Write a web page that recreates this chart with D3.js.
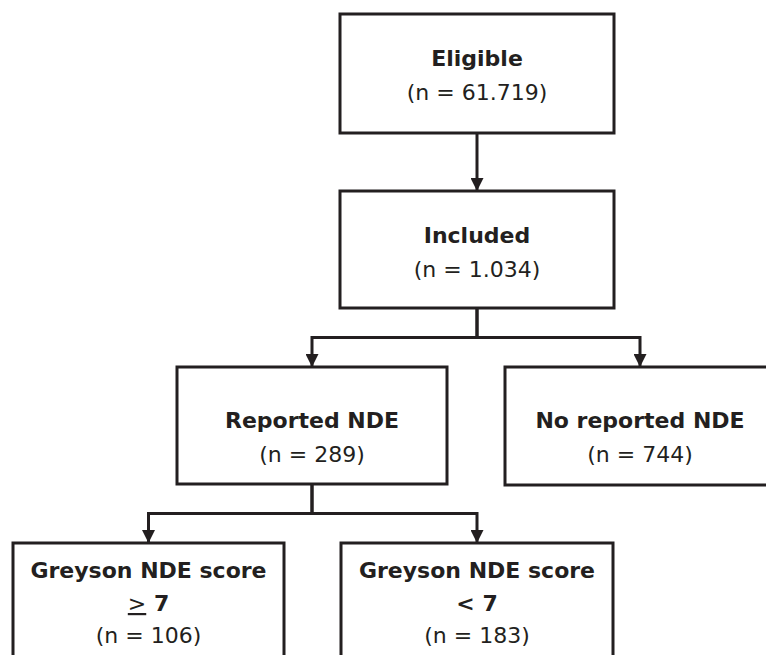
<!DOCTYPE html>
<html>
<head>
<meta charset="utf-8">
<script src="https://cdn.jsdelivr.net/npm/d3@7"></script>
<style>
  body{margin:0;background:#fff;}
  svg{display:block;}
</style>
</head>
<body>
<div id="flow"></div>
<script>
// node texts and counts
const titles = ["Eligible", "Included", "Reported NDE", "No reported NDE", "Greyson NDE score", "Greyson NDE score"];
// second line: [underlined operator, rest]
const subOps = [null, null, null, null, ">", "<"];
const subRest = [null, null, null, null, " 7", " 7"];
const subUnderline = [false, false, false, false, true, false];
const counts = ["61.719", "1.034", "289", "744", "106", "183"];
// parent index of each node (-1 = root)
const parents = [-1, 0, 1, 1, 2, 2];

/* layout: box centres (x) and tops (y) */
const W = 766, H = 655;
const boxCx = [477, 477, 312, 640, 148.5, 477];
const boxTop = [14, 191, 367, 367, 543, 543];
const boxW = [274, 274, 270, 270, 271, 272];
const boxH = [119, 117, 117, 118, 150, 150];
const firstBase = [52, 52, 61, 61, 35, 35];
const lineGap = 34;
const ink = "#231f20";

var svg = d3.select("#flow").append("svg")
  .attr("width", W).attr("height", H);

svg.append("defs").append("marker")
  .attr("id", "arr")
  .attr("viewBox", "0 0 10 10")
  .attr("refX", 10).attr("refY", 5)
  .attr("markerUnits", "userSpaceOnUse")
  .attr("markerWidth", 15).attr("markerHeight", 13)
  .attr("orient", "auto")
  .append("path").attr("d", "M0,0L10,5L0,10Z").attr("fill", ink);

const nodes = titles.map((t, i) => ({
  i: i, title: t, op: subOps[i], rest: subRest[i], n: counts[i], parent: parents[i],
  x: boxCx[i] - boxW[i] / 2, y: boxTop[i], w: boxW[i], h: boxH[i]
}));

// connectors
const links = svg.append("g").attr("fill", "none").attr("stroke", ink).attr("stroke-width", 3);
nodes.filter(d => d.parent >= 0).forEach(d => {
  const p = nodes[d.parent];
  const sibs = nodes.filter(s => s.parent === d.parent);
  const pcx = boxCx[p.i], ccx = boxCx[d.i];
  const pb = p.y + p.h;
  if (sibs.length === 1) {
    links.append("path").attr("d", `M${pcx},${pb}V${d.y}`).attr("marker-end", "url(#arr)");
  } else {
    const midY = pb + (d.y - pb) * 0.5;
    links.append("path").attr("d", `M${pcx},${pb}V${midY}H${ccx}V${d.y}`).attr("marker-end", "url(#arr)");
  }
});

// boxes
const g = svg.selectAll("g.node").data(nodes).enter()
  .append("g").attr("class", "node")
  .attr("transform", d => `translate(${d.x},${d.y})`);

g.append("rect")
  .attr("width", d => d.w).attr("height", d => d.h)
  .attr("fill", "#fff").attr("stroke", ink).attr("stroke-width", 3);

const txt = g.append("text")
  .attr("text-anchor", "middle")
  .attr("font-family", "DejaVu Sans, sans-serif")
  .attr("font-size", 22)
  .attr("fill", ink);

txt.append("tspan")
  .attr("x", d => d.w / 2).attr("y", d => firstBase[d.i])
  .attr("font-weight", "bold")
  .text(d => d.title);

const sub = txt.filter(d => d.op).append("tspan")
  .attr("x", d => d.w / 2).attr("y", d => firstBase[d.i] + 33)
  .attr("font-weight", "bold");
sub.append("tspan")
  .attr("font-weight", d => subUnderline[d.i] ? "normal" : "bold")
  .attr("text-decoration", d => subUnderline[d.i] ? "underline" : null)
  .text(d => d.op);
sub.append("tspan").text(d => d.rest);

txt.append("tspan")
  .attr("x", d => d.w / 2)
  .attr("y", d => firstBase[d.i] + (d.op ? 65 : lineGap))
  .text(d => "(n = " + d.n + ")");
</script>
</body>
</html>
